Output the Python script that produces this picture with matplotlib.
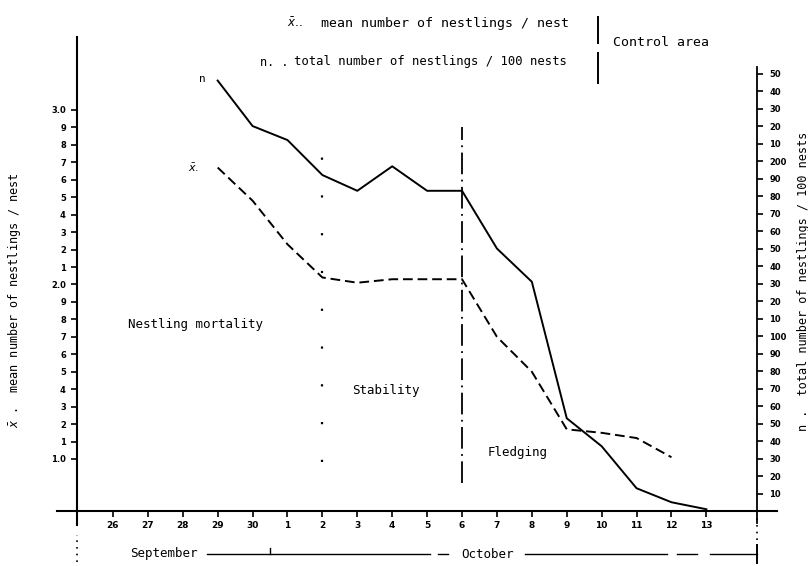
import matplotlib
matplotlib.use('Agg')
import matplotlib.pyplot as plt
from matplotlib.lines import Line2D
from matplotlib.transforms import blended_transform_factory as btf

# ---------------- data ----------------
day_labels = ['26', '27', '28', '29', '30', '1', '2', '3', '4', '5', '6',
              '7', '8', '9', '10', '11', '12', '13']

n_days = ['29', '30', '1', '2', '3', '4', '5', '6', '7', '8', '9', '10', '11', '12', '13']
n_values = [246, 220, 212, 192, 183, 197, 183, 183, 150, 131, 53, 37, 13, 5, 1]

xbar_days = ['29', '30', '1', '2', '3', '4', '5', '6', '7', '8', '9', '10', '11', '12']
xbar_values = [2.67, 2.48, 2.23, 2.04, 2.01, 2.03, 2.03, 2.03, 1.70, 1.50, 1.17, 1.15, 1.12, 1.01]

left_ticks = [round(1.0 + 0.1 * i, 1) for i in range(21)]
left_labels = ['1.0', '1', '2', '3', '4', '5', '6', '7', '8', '9',
               '2.0', '1', '2', '3', '4', '5', '6', '7', '8', '9', '3.0']
right_ticks = list(range(10, 260, 10))
right_labels = ['10', '20', '30', '40', '50', '60', '70', '80', '90', '100',
                '10', '20', '30', '40', '50', '60', '70', '80', '90', '200',
                '10', '20', '30', '40', '50']

phase_labels = ['Nestling mortality', 'Stability', 'Fledging']
month_labels = ['September', 'October']

# ---------------- layout ----------------
W, H = 808, 566
fig = plt.figure(figsize=(W / 100, H / 100), dpi=100)
MONO = 'DejaVu Sans Mono'

ax = fig.add_axes([77 / W, 55 / H, 680 / W, 474 / H])
ax.set_xlim(-1.03, 18.45)
ax.set_ylim(0.702, 3.418)
ax2 = ax.twinx()
ax2.set_ylim(0, 270.9)

for s in ['top', 'right', 'bottom']:
    ax.spines[s].set_visible(False)
for s in ['top', 'left', 'bottom']:
    ax2.spines[s].set_visible(False)
ax.spines['left'].set_linewidth(1.5)
ax2.spines['right'].set_linewidth(1.3)
ax2.spines['right'].set_bounds(0, 254)

pos = {d: i for i, d in enumerate(day_labels)}

# x axis
ax.set_xticks(range(len(day_labels)))
ax.set_xticklabels(day_labels, fontsize=6.5, fontweight='bold')
ax.tick_params(axis='x', direction='out', length=4, width=1.2, pad=3)
ax.axhline(0.702, xmin=-20 / 680, xmax=1 + 20 / 680, color='k', lw=1.5, clip_on=False)

# left axis ticks
ax.set_yticks(left_ticks)
ax.set_yticklabels(left_labels, fontsize=6, fontweight='bold')
ax.tick_params(axis='y', direction='out', length=4, width=1.2, pad=4)

# right axis ticks
ax2.set_yticks(right_ticks)
ax2.set_yticklabels(right_labels, fontsize=6, fontweight='bold')
ax2.tick_params(axis='y', direction='out', length=4, width=1.2, pad=5)

# curves
ax2.plot([pos[d] for d in n_days], n_values, color='k', lw=1.4)
ax.plot([pos[d] for d in xbar_days], xbar_values, color='k', lw=1.4, ls=(0, (5, 2.5)))

ax2.annotate('n', xy=(pos[n_days[0]], n_values[0]), xytext=(-11, 1),
             textcoords='offset points', ha='center', va='center', fontsize=8, family=MONO)
ax.annotate(r'$\bar{x}$.', xy=(pos[xbar_days[0]], xbar_values[0]), xytext=(-17, 0),
            textcoords='offset points', ha='center', va='center', fontsize=8)

# phase separators
ax.vlines(pos['2'], 0.98, 2.84, color='k', lw=1.6, linestyles=[(0, (1, 16))])
ax.vlines(pos['6'], 0.86, 2.90, color='k', lw=1.3, linestyles=[(0, (12, 3, 1, 3))])

# phase labels
ax.text(0.43, 1.77, phase_labels[0], fontsize=9, family=MONO, va='center', ha='left')
ax.text(6.85, 1.395, phase_labels[1], fontsize=9, family=MONO, va='center', ha='left')
ax.text(10.72, 1.04, phase_labels[2], fontsize=9, family=MONO, va='center', ha='left')

# axis titles
fig.text(15 / W, 1 - 300 / H, r'$\bar{x}$ .  mean number of nestlings / nest', rotation=90,
         ha='center', va='center', fontsize=8.5, family=MONO)
fig.text(803 / W, 1 - 281 / H, 'n .  total number of nestlings / 100 nests', rotation=90,
         ha='center', va='center', fontsize=8.5, family=MONO)

# legend block at top
fig.text(287 / W, 1 - 23 / H, r'$\bar{x}$..', ha='left', va='center', fontsize=8.5)
fig.text(321 / W, 1 - 23 / H, 'mean number of nestlings / nest', ha='left', va='center',
         fontsize=9.5, family=MONO)
fig.text(260 / W, 1 - 62 / H, 'n. .', ha='left', va='center', fontsize=8.5, family=MONO)
fig.text(294 / W, 1 - 62 / H, 'total number of nestlings / 100 nests', ha='left', va='center',
         fontsize=8.8, family=MONO)
fig.text(613 / W, 1 - 42 / H, 'Control area', ha='left', va='center', fontsize=9.5, family=MONO)
fig.add_artist(Line2D([598 / W] * 2, [1 - 17 / H, 1 - 43 / H], color='k', lw=1.4,
                      transform=fig.transFigure))
fig.add_artist(Line2D([598 / W] * 2, [1 - 53 / H, 1 - 83 / H], color='k', lw=1.4,
                      transform=fig.transFigure))

# month bracket row
tb = btf(ax.transData, ax.transAxes)
ym = (511 - 554) / 474
ax.text(1.46, ym, month_labels[0], transform=tb, ha='center', va='center', fontsize=9, family=MONO)
ax.text(10.72, ym, month_labels[1], transform=tb, ha='center', va='center', fontsize=9, family=MONO)
for x0, x1 in [(2.7, 9.08), (9.3, 9.6), (11.8, 15.87), (16.16, 16.73), (17.1, 18.45)]:
    ax.plot([x0, x1], [ym, ym], color='k', lw=1.0, transform=tb, clip_on=False)
ax.plot([4.5, 4.5], [ym, ym + 0.012], color='k', lw=1.0, transform=tb, clip_on=False)
ax.plot([18.45, 18.45], [ym + 0.02, ym - 0.02], color='k', lw=1.4, transform=tb, clip_on=False)

# axis extensions below baseline
ax.axvline(-1.03, ymin=-14 / 474, ymax=0, color='k', lw=1.5, clip_on=False)
ax.axvline(-1.03, ymin=-(562 - 511) / 474, ymax=-(535 - 511) / 474, color='k', lw=1.2,
           ls=(0, (1, 3)), clip_on=False)
ax.axvline(18.45, ymin=-12 / 474, ymax=0, color='k', lw=1.3, clip_on=False)
ax.axvline(18.45, ymin=-(540 - 511) / 474, ymax=-(515 - 511) / 474, color='k', lw=1.2,
           ls=(0, (1, 3)), clip_on=False)

fig.savefig('out.png', dpi=100)
